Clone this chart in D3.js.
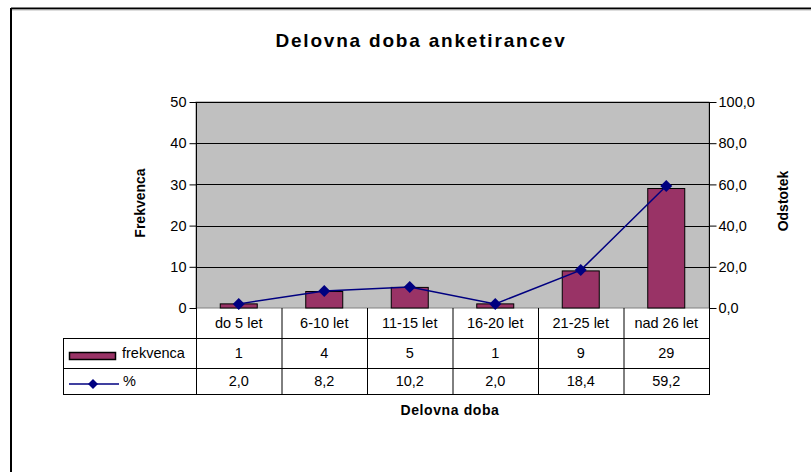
<!DOCTYPE html>
<html>
<head>
<meta charset="utf-8">
<script src="https://cdn.jsdelivr.net/npm/d3@7"></script>
<style>
  body { margin: 0; background: #fff; }
  svg { display: block; font-family: Arial, "Liberation Sans", sans-serif; }
</style>
</head>
<body>
<svg id="chart" width="811" height="472"></svg>
<script>
const categories = ["do 5 let", "6-10 let", "11-15 let", "16-20 let", "21-25 let", "nad 26 let"];
const frekvenca = [1, 4, 5, 1, 9, 29];
const odstotek = [2.0, 8.2, 10.2, 2.0, 18.4, 59.2];
const leftTicks = [0, 10, 20, 30, 40, 50];
const rightTicks = [0, 20, 40, 60, 80, 100];

const fmt = v => v.toFixed(1).replace(".", ",");
const fs = 14.5;

const svg = d3.select("#chart");
const plot = { left: 196, right: 709, top: 102, bottom: 308 };
const rowY = [308, 338, 368, 394];
const legendLeft = 63;

// frame
svg.append("line").attr("x1", 11).attr("x2", 811).attr("y1", 8.5).attr("y2", 8.5)
    .attr("stroke", "#000").attr("stroke-width", 2);
svg.append("line").attr("x1", 11).attr("x2", 811).attr("y1", 10).attr("y2", 10)
    .attr("stroke", "#bbb").attr("stroke-width", 1);
svg.append("line").attr("x1", 11).attr("x2", 11).attr("y1", 8).attr("y2", 472)
    .attr("stroke", "#000").attr("stroke-width", 2);

const x = d3.scaleBand().domain(categories).range([plot.left, plot.right]);
const yL = d3.scaleLinear().domain([0, 50]).range([plot.bottom, plot.top]);
const yR = d3.scaleLinear().domain([0, 100]).range([plot.bottom, plot.top]);

svg.append("text").attr("x", 421).attr("y", 47).attr("text-anchor", "middle")
    .attr("font-size", 19).attr("font-weight", "bold").attr("letter-spacing", 1.8)
    .text("Delovna doba anketirancev");

// plot area
svg.append("rect").attr("x", plot.left).attr("y", plot.top)
    .attr("width", plot.right - plot.left).attr("height", plot.bottom - plot.top)
    .attr("fill", "#c0c0c0").attr("stroke", "#808080");

svg.selectAll(".grid").data(leftTicks.slice(1)).join("line")
    .attr("x1", plot.left).attr("x2", plot.right)
    .attr("y1", d => Math.round(yL(d)) + 0.5).attr("y2", d => Math.round(yL(d)) + 0.5)
    .attr("stroke", "#000");

// bars
const barW = 37;
svg.selectAll(".bar").data(frekvenca).join("rect")
    .attr("x", (d, i) => x(categories[i]) + x.bandwidth() / 2 - barW / 2)
    .attr("y", d => yL(d))
    .attr("width", barW)
    .attr("height", d => yL(0) - yL(d))
    .attr("fill", "#993366").attr("stroke", "#000").attr("stroke-width", 1);

// left axis
const axL = svg.append("g").attr("transform", `translate(${plot.left + 0.5},0)`)
    .call(d3.axisLeft(yL).tickValues(leftTicks).tickSize(7).tickSizeOuter(0));
axL.select(".domain").attr("d", `M0,${plot.top}V${plot.bottom}`);
axL.selectAll("text").attr("font-size", fs).attr("font-family", "Arial, 'Liberation Sans', sans-serif").attr("dx", 0);

// right axis
const axR = svg.append("g").attr("transform", `translate(${plot.right + 0.5},0)`)
    .call(d3.axisRight(yR).tickValues(rightTicks).tickFormat(fmt).tickSize(7).tickSizeOuter(0));
axR.select(".domain").attr("d", `M0,${plot.top}V${plot.bottom}`);
axR.selectAll("text").attr("font-size", fs).attr("font-family", "Arial, 'Liberation Sans', sans-serif").attr("dx", -1);

// line
const cx = (d, i) => x(categories[i]) + x.bandwidth() / 2;
svg.append("path").datum(odstotek)
    .attr("d", d3.line().x(cx).y(d => yR(d)))
    .attr("fill", "none").attr("stroke", "#000080").attr("stroke-width", 1.5);
const diamond = (px, py, r) => `M${px},${py - r}L${px + r},${py}L${px},${py + r}L${px - r},${py}Z`;
svg.selectAll(".mk").data(odstotek).join("path")
    .attr("d", (d, i) => diamond(cx(d, i), yR(d), 6))
    .attr("fill", "#000080");

// data table
const tbl = svg.append("g").attr("stroke", "#000").attr("stroke-width", 1);
rowY.slice(1).forEach(yy => {
  tbl.append("line").attr("x1", legendLeft).attr("x2", plot.right)
      .attr("y1", yy + 0.5).attr("y2", yy + 0.5);
});
tbl.append("line").attr("x1", legendLeft + 0.5).attr("x2", legendLeft + 0.5)
    .attr("y1", rowY[1]).attr("y2", rowY[3] + 1);
categories.forEach((c, i) => {
  tbl.append("line").attr("x1", x(c) + 0.5).attr("x2", x(c) + 0.5)
      .attr("y1", rowY[0]).attr("y2", rowY[3] + 1);
});
tbl.append("line").attr("x1", plot.right + 0.5).attr("x2", plot.right + 0.5)
    .attr("y1", rowY[0]).attr("y2", rowY[3] + 1);

const rowMid = r => (rowY[r] + rowY[r + 1]) / 2 + 5;
const cell = (txt, i, r) => svg.append("text")
    .attr("x", x(categories[i]) + x.bandwidth() / 2).attr("y", rowMid(r))
    .attr("text-anchor", "middle").attr("font-size", fs).text(txt);
categories.forEach((c, i) => cell(c, i, 0));
frekvenca.forEach((v, i) => cell(String(v), i, 1));
odstotek.forEach((v, i) => cell(fmt(v), i, 2));

// legend keys
svg.append("rect").attr("x", 69.5).attr("y", 352.5).attr("width", 46).attr("height", 7)
    .attr("fill", "#993366").attr("stroke", "#000").attr("stroke-width", 1.5);
svg.append("text").attr("x", 122).attr("y", rowMid(1)).attr("font-size", fs).text("frekvenca");
svg.append("line").attr("x1", 69).attr("x2", 119).attr("y1", 384).attr("y2", 384)
    .attr("stroke", "#000080").attr("stroke-width", 1.5);
svg.append("path").attr("d", diamond(93, 384, 5)).attr("fill", "#000080");
svg.append("text").attr("x", 123).attr("y", rowMid(2)).attr("font-size", fs).text("%");

// axis titles
svg.append("text").attr("transform", "translate(145,203) rotate(-90)")
    .attr("text-anchor", "middle").attr("font-size", 14).attr("font-weight", "bold").text("Frekvenca");
svg.append("text").attr("transform", "translate(788,201) rotate(-90)")
    .attr("text-anchor", "middle").attr("font-size", 14).attr("font-weight", "bold").text("Odstotek");
svg.append("text").attr("x", 450).attr("y", 415).attr("text-anchor", "middle")
    .attr("font-size", 14).attr("font-weight", "bold").attr("letter-spacing", 0.6).text("Delovna doba");
</script>
</body>
</html>
